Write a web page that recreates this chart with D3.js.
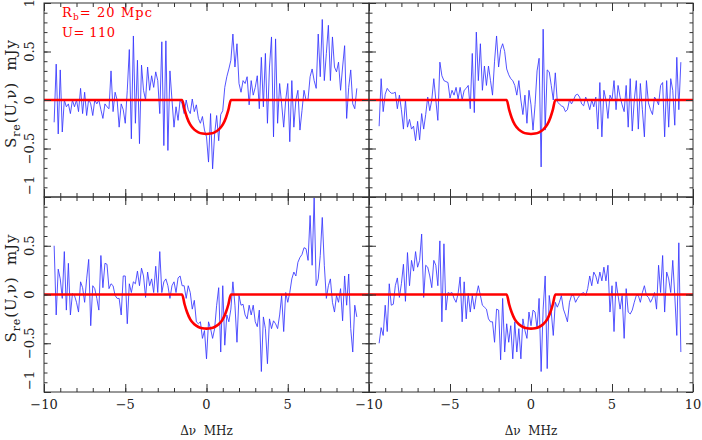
<!DOCTYPE html>
<html><head><meta charset="utf-8">
<script src="https://cdn.jsdelivr.net/npm/d3@7"></script>
<style>
html,body{margin:0;padding:0;background:#fff;}
svg{display:block;}
text{font-family:"DejaVu Serif",serif;white-space:pre;}
</style>
</head><body><svg id="chart" width="702" height="440"></svg>
<script>
// ---- data ----
const channelStart = -9.375;   // MHz, first channel
const channelWidth = 0.125;    // MHz

const topLeftValues = [-0.23,0.37,-0.35,0.31,-0.33,0,-0.07,-0.04,-0.14,0,
-0.07,0,-0.12,0.12,-0.14,0.08,-0.16,0.01,-0.04,-0.16,
0,-0.04,0,-0.1,-0.19,-0.04,-0.07,-0.09,0.3,-0.12,
0.08,0,-0.28,-0.04,-0.1,-0.24,0.1,0.52,-0.4,0.66,
-0.24,0.41,-0.45,0.36,0.1,0,0.34,0.1,0.25,0.13,
0.29,0.2,-0.14,0.6,-0.47,0.61,-0.52,0.3,0,-0.28,
-0.07,-0.21,0,-0.04,-0.14,0,-0.1,-0.14,0.01,-0.12,
-0.05,-0.19,-0.24,-0.17,-0.31,-0.38,-0.64,
-0.14,-0.71,-0.35,-0.16,-0.42,-0.15,-0.11,0.13,0.24,0.32,
0.41,0.68,0.34,0.58,0.17,0.08,0.2,0.17,0.24,-0.05,
0.2,0.05,0.13,0.25,-0.09,0.44,-0.07,0.48,-0.24,0.34,
0.65,-0.38,0.63,-0.24,0.17,-0.04,-0.28,0,0.17,-0.43,
0.2,-0.28,0,0.1,-0.31,-0.11,0.1,0,0.01,0.24,
0.32,0.2,0.12,0.68,0.24,0.83,0.2,0.48,0.77,0.2,
0.65,0.34,0.29,0.39,0.1,0.34,0.56,-0.19,0.13,0.31,
-0.04,-0.09,0.12];

const topRightValues = [-0.27,0.22,-0.12,0.06,0.12,0.09,0.07,0.07,0.08,-0.09,
0.05,-0.1,-0.3,0,-0.28,-0.2,-0.3,-0.27,-0.42,-0.22,
-0.41,-0.14,-0.3,-0.15,0.03,-0.11,0,0.22,0,-0.21,
0.39,0.25,0.2,0.19,0.18,0.02,0.1,0.05,0.13,0.01,
0.13,0,0.1,0.12,0.15,-0.09,0.48,-0.13,0.7,0.2,
0.58,0.1,0.35,0.15,0.35,0.2,0.05,0.4,0.66,0.34,
0.52,0.58,0.5,0.32,0.26,0.22,0.2,0.15,0.05,0.2,
0,-0.15,0.05,-0.24,0.1,-0.05,-0.31,-0.05,0.3,0.43,
-0.69,0.73,-0.31,0.31,0.29,0.15,0,0.28,-0.02,-0.04,
-0.06,-0.07,-0.12,-0.1,0,-0.04,0,0.05,0.06,0.03,
-0.04,-0.06,0.03,-0.02,-0.1,0,-0.07,0.03,-0.3,0.18,
-0.38,0.1,0,-0.19,0.05,0,0.2,-0.1,0.15,0.03,
-0.05,-0.12,0.15,-0.28,0.22,-0.32,0,0.2,-0.3,0.17,
-0.1,-0.38,0.2,-0.03,-0.1,-0.15,0.03,0,-0.05,0.15,
0.18,-0.38,0.2,-0.28,0.22,0.1,-0.26,0.44,-0.1,0.39];

const bottomLeftValues = [0.5,-0.21,0.26,0.16,-0.04,0.44,-0.16,0.32,-0.21,0.01,
-0.01,-0.08,-0.18,0.13,0.07,-0.08,0.16,0.36,-0.32,0.09,
0.06,-0.04,-0.16,0.4,0.07,0.32,0.31,0.06,0.11,0.09,
-0.01,-0.04,-0.04,-0.21,0.19,0.19,-0.3,0.11,0.02,0.13,
0.11,0.24,0.09,0.27,0.19,-0.03,0.23,0.09,0.16,0.02,
0.29,0.02,0.44,0.02,0.13,0.16,0.09,-0.04,0.09,0.13,
0.02,0.17,0.19,0.09,0.09,-0.04,0.09,0.02,-0.15,-0.06,
-0.28,-0.3,-0.28,-0.45,-0.37,-0.66,-0.28,
-0.35,-0.45,-0.35,-0.11,0.07,-0.59,0.09,-0.52,-0.21,-0.28,
-0.15,0.13,-0.11,-0.49,-0.01,-0.11,-0.1,-0.21,-0.25,-0.11,
-0.21,-0.11,-0.28,-0.33,-0.16,-0.79,-0.23,-0.35,-0.71,-0.25,
-0.35,-0.27,-0.3,-0.35,-0.21,-0.01,-0.38,0.02,-0.08,0.02,
0.16,0.23,0.19,0.33,0.38,0.41,0.48,0.47,0.35,0.81,
0.3,0.99,0.09,0.16,0.4,0.79,0.3,-0.04,0.09,0.16,
-0.08,-0.18,-0.01,-0.08,0.06,-0.27,0.19,-0.11,0.21,-0.35,
-0.59,-0.11,-0.23];

const bottomRightValues = [-0.5,-0.34,-0.42,-0.11,-0.38,0.11,-0.11,-0.1,0.09,0.17,
-0.03,0.11,0.31,-0.07,0.43,0.09,0.35,0.24,0.44,0.28,
0.35,0.62,-0.03,0.3,0.28,0.19,0.07,0.35,0.3,0.09,
0.55,-0.28,0.52,-0.16,0.02,0.01,0.02,-0.04,-0.08,0.01,
0.18,-0.28,0.13,-0.25,0.01,-0.18,-0.01,-0.15,-0.01,0.09,
-0.01,-0.11,-0.13,-0.15,-0.25,-0.28,-0.28,-0.49,-0.15,-0.16,
-0.67,-0.04,-0.59,-0.3,-0.49,-0.32,-0.66,-0.28,-0.59,-0.35,
-0.66,-0.25,-0.37,-0.45,-0.18,-0.32,-0.16,-0.18,-0.35,-0.04,
-0.79,-0.15,0.19,-0.76,-0.01,-0.18,-0.42,-0.08,-0.13,-0.08,
-0.01,-0.15,-0.21,-0.28,-0.08,-0.01,-0.01,-0.08,-0.04,-0.01,
0.01,0.02,-0.01,0.06,0.19,0.09,0.23,0.19,0.11,0.23,
0.14,0.28,0.14,0.3,-0.18,0.09,-0.38,0.13,-0.01,-0.15,
-0.01,-0.45,0.06,-0.18,-0.2,-0.16,-0.08,-0.01,-0.01,-0.08,
0.02,0.09,-0.01,-0.03,-0.08,-0.04,0.02,-0.15,0.3,0.02,
0.4,-0.18,0.23,0.16,0.02,0.35,-0.01,-0.42,0.53,-0.59];

// model (expected HII-bubble signal), same in all panels
const modelNu = [-10,-1.5,-1.35,-1.2,-1.0,-0.75,-0.5,-0.25,0,0.25,0.5,0.75,1.0,1.2,1.35,1.5,10];
const modelS  = [0,0,-0.1,-0.18,-0.255,-0.305,-0.333,-0.346,-0.35,-0.346,-0.333,-0.305,-0.255,-0.18,-0.1,0,0];

const xMajorTicks = [-10,-5,0,5,10];
const xTickLabels = ["\u221210","\u22125","0","5","10"];
const yMajorTicks = [-1,-0.5,0,0.5,1];
const yTickLabels = ["\u22121","\u22120.5","0","0.5","1"];
const legendLines = ["R_b= 20 Mpc","U= 110"];
const xTitle = "\u0394\u03bd  MHz";

// ---- layout ----
const svg = d3.select("#chart");
const cols = [[44,369],[369,693]];
const rows = [[3,197],[197,392]];
const seriesByPanel = [[topLeftValues, topRightValues],[bottomLeftValues, bottomRightValues]];
const frameColor = "#333";
const xMinorTicks = d3.range(-10, 10.001, 1);
const yMinorTicks = d3.range(-10, 10.001, 1).map(d => d/10);

const line = (x, y) => d3.line().x(d => x(d[0])).y(d => y(d[1]));

rows.forEach((rr, ri) => {
  cols.forEach((cc, ci) => {
    const x = d3.scaleLinear().domain([-10,10]).range(cc);
    const y = d3.scaleLinear().domain([-1,1]).range([rr[1], rr[0]]);
    const g = svg.append("g");
    const clipId = `clip${ri}${ci}`;
    g.append("clipPath").attr("id", clipId).append("rect")
      .attr("x", cc[0]).attr("y", rr[0]).attr("width", cc[1]-cc[0]).attr("height", rr[1]-rr[0]);

    const vals = seriesByPanel[ri][ci];
    const pts = vals.map((v, i) => [channelStart + i*channelWidth, v]);
    g.append("path").attr("clip-path", `url(#${clipId})`)
      .attr("d", line(x,y)(pts)).attr("fill","none")
      .attr("stroke","#3535ff").attr("stroke-width",0.85).attr("stroke-linejoin","round");

    const mpts = modelNu.map((n, i) => [n, modelS[i]]);
    g.append("path").attr("clip-path", `url(#${clipId})`)
      .attr("d", line(x,y).curve(d3.curveMonotoneX)(mpts)).attr("fill","none")
      .attr("stroke","#ff0000").attr("stroke-width",2.6);

    // ticks on four sides
    const axes = [
      [d3.axisBottom(x), `translate(0,${rr[1]})`, xMajorTicks, xMinorTicks, 8, 4],
      [d3.axisTop(x), `translate(0,${rr[0]})`, xMajorTicks, xMinorTicks, 8, 4],
      [d3.axisLeft(y), `translate(${cc[0]},0)`, yMajorTicks, yMinorTicks, 7, 3.5],
      [d3.axisRight(y), `translate(${cc[1]},0)`, yMajorTicks, yMinorTicks, 7, 3.5]
    ];
    axes.forEach(([ax, tr, maj, min, lm, lmin]) => {
      const a1 = g.append("g").attr("transform", tr)
        .call(ax.tickValues(maj).tickSize(-lm).tickFormat(""));
      a1.select(".domain").remove();
      a1.selectAll("line").attr("stroke", frameColor);
      const a2 = g.append("g").attr("transform", tr)
        .call(ax.tickValues(min).tickSize(-lmin).tickFormat(""));
      a2.select(".domain").remove();
      a2.selectAll("line").attr("stroke", frameColor);
    });

    g.append("rect").attr("x", cc[0]).attr("y", rr[0])
      .attr("width", cc[1]-cc[0]).attr("height", rr[1]-rr[0])
      .attr("fill","none").attr("stroke", frameColor).attr("stroke-width",1);

    // x tick labels (bottom row)
    if (ri === 1) {
      xMajorTicks.forEach((t, k) => {
        if (ci === 0 && t === 10) return;
        svg.append("text").attr("x", x(t)).attr("y", 409)
          .attr("text-anchor","middle").attr("font-size",13).attr("fill","#222")
          .text(xTickLabels[k]);
      });
      svg.append("text").attr("x", (cc[0]+cc[1])/2).attr("y", 435)
        .attr("text-anchor","middle").attr("font-size",12).attr("fill","#222")
        .text(xTitle);
    }
    // y tick labels (left column)
    if (ci === 0) {
      yMajorTicks.forEach((t, k) => {
        if (ri === 1 && t === 1) return;
        const isBottom = t === -1;
        svg.append("text")
          .attr("transform", `translate(34,${y(t) - (isBottom ? 2 : 0)}) rotate(-90)`)
          .attr("text-anchor", isBottom ? "start" : "middle")
          .attr("font-size",13).attr("fill","#222")
          .text(yTickLabels[k]);
      });
      const yt = svg.append("text")
        .attr("transform", `translate(16,${(rr[0]+rr[1])/2 - 6}) rotate(-90)`)
        .attr("text-anchor","middle").attr("font-size",15).attr("fill","#222")
        .attr("textLength", 108).attr("lengthAdjust","spacing");
      yt.append("tspan").text("S");
      yt.append("tspan").attr("dy",4).attr("font-size",11).text("re");
      yt.append("tspan").attr("dy",-4).text("(U,\u03bd)  mJy");
    }
  });
});

// legend in top-left panel
const l1 = svg.append("text").attr("x", 62).attr("y", 17)
  .attr("font-size",13).attr("fill","#ff0000")
  .attr("textLength", 90).attr("lengthAdjust","spacing");
const parts = legendLines[0].split("_");
l1.append("tspan").text(parts[0]);
l1.append("tspan").attr("dy",3).attr("font-size",9).text(parts[1].charAt(0));
l1.append("tspan").attr("dy",-3).text(parts[1].slice(1));
svg.append("text").attr("x", 62).attr("y", 37)
  .attr("font-size",13).attr("fill","#ff0000")
  .attr("textLength", 53).attr("lengthAdjust","spacing")
  .text(legendLines[1]);
</script>
</body></html>
